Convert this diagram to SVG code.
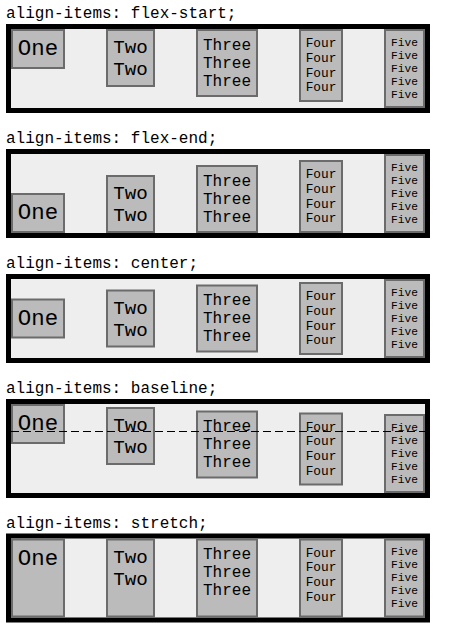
<svg xmlns="http://www.w3.org/2000/svg" width="452" height="644" viewBox="0 0 452 644">
<style>
text{font-family:"Liberation Mono","Courier New",monospace;fill:#000}
.lbl{font-size:16px}
.cont{fill:#eee;stroke:#000;stroke-width:5}
.box{fill:#bbb;stroke:#6b6b6b;stroke-width:2}
.t1{font-size:22.4px;text-anchor:middle}
.t2{font-size:19.2px;text-anchor:middle}
.t3{font-size:16px;text-anchor:middle}
.t4{font-size:12.8px;text-anchor:middle}
.t5{font-size:11.2px;text-anchor:middle}
.guide{stroke:#000;stroke-width:1;stroke-dasharray:8 4;fill:none}
</style>
<rect width="452" height="644" fill="#fff"/>

<!-- Section 1: flex-start -->
<g id="sec1">
<text class="lbl" x="6" y="18">align-items: flex-start;</text>
<rect class="cont" x="8.5" y="26.5" width="419" height="84"/>
<g id="s1-one"><rect class="box" x="12" y="30" width="52" height="38"/><text class="t1" x="38" y="55">One</text></g>
<g id="s1-two"><rect class="box" x="107" y="30" width="47" height="56"/><text class="t2" x="130.5"><tspan x="130.5" y="53">Two</tspan><tspan x="130.5" y="75">Two</tspan></text></g>
<g id="s1-three"><rect class="box" x="197" y="30" width="60" height="66"/><text class="t3"><tspan x="227" y="49.5">Three</tspan><tspan x="227" y="67.5">Three</tspan><tspan x="227" y="85.5">Three</tspan></text></g>
<g id="s1-four"><rect class="box" x="300" y="30" width="42" height="71"/><text class="t4"><tspan x="321" y="47.2">Four</tspan><tspan x="321" y="61.95">Four</tspan><tspan x="321" y="76.7">Four</tspan><tspan x="321" y="91.45">Four</tspan></text></g>
<g id="s1-five"><rect class="box" x="385" y="30" width="39" height="77"/><text class="t5"><tspan x="404.5" y="45.7">Five</tspan><tspan x="404.5" y="58.7">Five</tspan><tspan x="404.5" y="71.7">Five</tspan><tspan x="404.5" y="84.7">Five</tspan><tspan x="404.5" y="97.7">Five</tspan></text></g>
</g>

<!-- Section 2: flex-end -->
<g id="sec2">
<text class="lbl" x="6" y="143">align-items: flex-end;</text>
<rect class="cont" x="8.5" y="151.5" width="419" height="84"/>
<g id="s2-one"><rect class="box" x="12" y="194" width="52" height="38"/><text class="t1" x="38" y="219">One</text></g>
<g id="s2-two"><rect class="box" x="107" y="176" width="47" height="56"/><text class="t2"><tspan x="130.5" y="199">Two</tspan><tspan x="130.5" y="221">Two</tspan></text></g>
<g id="s2-three"><rect class="box" x="197" y="166" width="60" height="66"/><text class="t3"><tspan x="227" y="185.5">Three</tspan><tspan x="227" y="203.5">Three</tspan><tspan x="227" y="221.5">Three</tspan></text></g>
<g id="s2-four"><rect class="box" x="300" y="161" width="42" height="71"/><text class="t4"><tspan x="321" y="178.2">Four</tspan><tspan x="321" y="192.95">Four</tspan><tspan x="321" y="207.7">Four</tspan><tspan x="321" y="222.45">Four</tspan></text></g>
<g id="s2-five"><rect class="box" x="385" y="155" width="39" height="77"/><text class="t5"><tspan x="404.5" y="170.7">Five</tspan><tspan x="404.5" y="183.7">Five</tspan><tspan x="404.5" y="196.7">Five</tspan><tspan x="404.5" y="209.7">Five</tspan><tspan x="404.5" y="222.7">Five</tspan></text></g>
</g>

<!-- Section 3: center -->
<g id="sec3">
<text class="lbl" x="6" y="268">align-items: center;</text>
<rect class="cont" x="8.5" y="276.5" width="419" height="84"/>
<g id="s3-one"><rect class="box" x="12" y="299.5" width="52" height="38"/><text class="t1" x="38" y="324.5">One</text></g>
<g id="s3-two"><rect class="box" x="107" y="290.5" width="47" height="56"/><text class="t2"><tspan x="130.5" y="313.5">Two</tspan><tspan x="130.5" y="335.5">Two</tspan></text></g>
<g id="s3-three"><rect class="box" x="197" y="285.5" width="60" height="66"/><text class="t3"><tspan x="227" y="305">Three</tspan><tspan x="227" y="323">Three</tspan><tspan x="227" y="341">Three</tspan></text></g>
<g id="s3-four"><rect class="box" x="300" y="283" width="42" height="71"/><text class="t4"><tspan x="321" y="300.2">Four</tspan><tspan x="321" y="314.95">Four</tspan><tspan x="321" y="329.7">Four</tspan><tspan x="321" y="344.45">Four</tspan></text></g>
<g id="s3-five"><rect class="box" x="385" y="280" width="39" height="77"/><text class="t5"><tspan x="404.5" y="295.7">Five</tspan><tspan x="404.5" y="308.7">Five</tspan><tspan x="404.5" y="321.7">Five</tspan><tspan x="404.5" y="334.7">Five</tspan><tspan x="404.5" y="347.7">Five</tspan></text></g>
</g>

<!-- Section 4: baseline -->
<g id="sec4">
<text class="lbl" x="6" y="393">align-items: baseline;</text>
<rect class="cont" x="8.5" y="401.5" width="419" height="94"/>
<g id="s4-one"><rect class="box" x="12" y="405" width="52" height="38"/><text class="t1" x="38" y="430">One</text></g>
<g id="s4-two"><rect class="box" x="107" y="408" width="47" height="56"/><text class="t2"><tspan x="130.5" y="431">Two</tspan><tspan x="130.5" y="453">Two</tspan></text></g>
<g id="s4-three"><rect class="box" x="197" y="411.5" width="60" height="66"/><text class="t3"><tspan x="227" y="431">Three</tspan><tspan x="227" y="449">Three</tspan><tspan x="227" y="467">Three</tspan></text></g>
<g id="s4-four"><rect class="box" x="300" y="413.5" width="42" height="71"/><text class="t4"><tspan x="321" y="430.7">Four</tspan><tspan x="321" y="445.45">Four</tspan><tspan x="321" y="460.2">Four</tspan><tspan x="321" y="474.95">Four</tspan></text></g>
<g id="s4-five"><rect class="box" x="385" y="415" width="39" height="77"/><text class="t5"><tspan x="404.5" y="430.7">Five</tspan><tspan x="404.5" y="443.7">Five</tspan><tspan x="404.5" y="456.7">Five</tspan><tspan x="404.5" y="469.7">Five</tspan><tspan x="404.5" y="482.7">Five</tspan></text></g>
</g>
<g id="connectors">
<line class="guide" x1="11" y1="431.5" x2="425" y2="431.5"/>
</g>

<!-- Section 5: stretch -->
<g id="sec5">
<text class="lbl" x="6" y="527.5">align-items: stretch;</text>
<rect class="cont" x="8.5" y="536" width="419" height="84"/>
<g id="s5-one"><rect class="box" x="12" y="539.5" width="52" height="77"/><text class="t1" x="38" y="564.5">One</text></g>
<g id="s5-two"><rect class="box" x="107" y="539.5" width="47" height="77"/><text class="t2"><tspan x="130.5" y="562.5">Two</tspan><tspan x="130.5" y="584.5">Two</tspan></text></g>
<g id="s5-three"><rect class="box" x="197" y="539.5" width="60" height="77"/><text class="t3"><tspan x="227" y="559">Three</tspan><tspan x="227" y="577">Three</tspan><tspan x="227" y="595">Three</tspan></text></g>
<g id="s5-four"><rect class="box" x="300" y="539.5" width="42" height="77"/><text class="t4"><tspan x="321" y="556.7">Four</tspan><tspan x="321" y="571.45">Four</tspan><tspan x="321" y="586.2">Four</tspan><tspan x="321" y="600.95">Four</tspan></text></g>
<g id="s5-five"><rect class="box" x="385" y="539.5" width="39" height="77"/><text class="t5"><tspan x="404.5" y="555.2">Five</tspan><tspan x="404.5" y="568.2">Five</tspan><tspan x="404.5" y="581.2">Five</tspan><tspan x="404.5" y="594.2">Five</tspan><tspan x="404.5" y="607.2">Five</tspan></text></g>
</g>
</svg>
